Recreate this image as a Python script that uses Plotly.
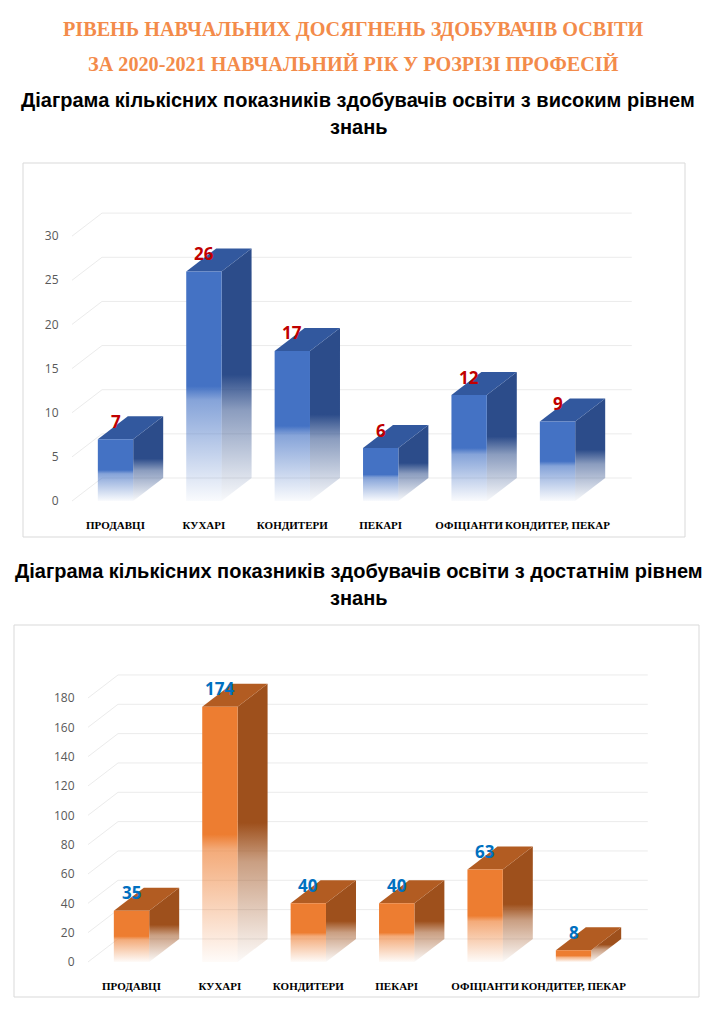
import plotly.graph_objects as go

# ---------------- data ----------------
categories = ["ПРОДАВЦІ", "КУХАРІ", "КОНДИТЕРИ", "ПЕКАРІ", "ОФІЦІАНТИ", "КОНДИТЕР, ПЕКАР"]
high_level = [7, 26, 17, 6, 12, 9]
sufficient_level = [35, 174, 40, 40, 63, 8]
ticks_high = [0, 5, 10, 15, 20, 25, 30]
ticks_sufficient = [0, 20, 40, 60, 80, 100, 120, 140, 160, 180]

title_line1 = "РІВЕНЬ НАВЧАЛЬНИХ ДОСЯГНЕНЬ ЗДОБУВАЧІВ ОСВІТИ"
title_line2 = "ЗА 2020-2021 НАВЧАЛЬНИЙ РІК У РОЗРІЗІ ПРОФЕСІЙ"
sub1_line1 = "Діаграма кількісних показників здобувачів освіти з високим рівнем"
sub1_line2 = "знань"
sub2_line1 = "Діаграма кількісних показників здобувачів освіти з достатнім рівнем"
sub2_line2 = "знань"

# ---------------- styling / geometry ----------------
PAGE_OFF = 8                      # page body margin of the html page
W, H = 718 - PAGE_OFF, 1024 - PAGE_OFF
HALF_W = 0.2          # half width of bar front face (category units)
DEPTH_X_PX = 30       # 3D depth offset in pixels
DEPTH_Y_PX = 23
WALL_LEFT = -0.492    # front-left corner of side wall
WALL_RIGHT = 5.84     # end of back wall
XR = [-0.56, 5.933]


def fx(p):
    return (p - PAGE_OFF) / W


def fy(p):
    return 1 - (p - PAGE_OFF) / H


charts = [
    dict(values=high_level, ticks=ticks_high, xa="x", ya="y",
         px_x=(66, 640), px_y=(200, 508), yr=[-0.79, 34.09],
         front="68,114,196", side="44,76,138", top="50,88,158",
         label_color="#C00000", frame=(23, 163, 685, 537)),
    dict(values=sufficient_level, ticks=ticks_sufficient, xa="x2", ya="y2",
         px_x=(82, 656), px_y=(660, 969), yr=[-4.8, 205.9],
         front="237,125,49", side="158,80,28", top="178,92,34",
         label_color="#0070C0", frame=(14, 625, 699, 997)),
]


def grad(rgb, solid_from=0.5, mid=0.42, mid_alpha=0.6):
    return [[0.0, f"rgba({rgb},0.03)"],
            [mid, f"rgba({rgb},{mid_alpha})"],
            [solid_from, f"rgba({rgb},1)"],
            [1.0, f"rgba({rgb},1)"]]


fig = go.Figure()
layout_axes = {}
annotations = []
shapes = []

for k, c in enumerate(charts):
    ppu_x = (c["px_x"][1] - c["px_x"][0]) / (XR[1] - XR[0])
    ppu_y = (c["px_y"][1] - c["px_y"][0]) / (c["yr"][1] - c["yr"][0])
    dX = DEPTH_X_PX / ppu_x
    dY = DEPTH_Y_PX / ppu_y

    # walls / gridlines
    gx, gy = [], []
    for t in c["ticks"]:
        gx += [WALL_LEFT, WALL_LEFT + dX, WALL_RIGHT, None]
        gy += [t, t + dY, t + dY, None]
    fig.add_trace(go.Scatter(x=gx, y=gy, mode="lines",
                             line=dict(color="#EBEBEB", width=1),
                             xaxis=c["xa"], yaxis=c["ya"], hoverinfo="skip"))

    for i, v in enumerate(c["values"]):
        x0, x1 = i - HALF_W, i + HALF_W
        # side face
        fig.add_trace(go.Scatter(
            x=[x1, x1 + dX, x1 + dX, x1, x1], y=[0, dY, v + dY, v, 0],
            mode="lines", line=dict(width=0), fill="toself",
            fillgradient=dict(type="vertical", colorscale=grad(c["side"], 0.5, 0.36, 0.55)),
            xaxis=c["xa"], yaxis=c["ya"], hoverinfo="skip"))
        # top face
        fig.add_trace(go.Scatter(
            x=[x0, x1, x1 + dX, x0 + dX, x0], y=[v, v, v + dY, v + dY, v],
            mode="lines", line=dict(width=0), fill="toself",
            fillcolor=f"rgb({c['top']})",
            xaxis=c["xa"], yaxis=c["ya"], hoverinfo="skip"))
        # front face
        fig.add_trace(go.Scatter(
            x=[x0, x1, x1, x0, x0], y=[0, 0, v, v, 0],
            mode="lines", line=dict(width=0), fill="toself",
            fillgradient=dict(type="vertical", colorscale=grad(c["front"], 0.5, 0.44, 0.65)),
            xaxis=c["xa"], yaxis=c["ya"], hoverinfo="skip"))
        annotations.append(dict(
            x=i, y=v, xref=c["xa"], yref=c["ya"], text=str(v), showarrow=False,
            yshift=18, xanchor="center", yanchor="middle",
            font=dict(family="Open Sans", size=17, color=c["label_color"], weight="bold")))

    suffix = "" if k == 0 else "2"
    layout_axes["xaxis" + suffix] = dict(
        domain=[fx(c["px_x"][0]), fx(c["px_x"][1])], range=XR, anchor=c["ya"],
        tickvals=list(range(len(categories))), ticktext=categories, tickangle=0,
        tickfont=dict(family="Liberation Serif", size=11, color="#000000", weight="bold"),
        ticks="outside", ticklen=7, tickcolor="rgba(0,0,0,0)", automargin=False,
        showgrid=False, zeroline=False, showline=False, fixedrange=True)
    layout_axes["yaxis" + suffix] = dict(
        domain=[fy(c["px_y"][1]), fy(c["px_y"][0])], range=c["yr"], anchor=c["xa"],
        tickvals=c["ticks"], automargin=False,
        tickfont=dict(family="Open Sans", size=12, color="#595959"),
        ticks="outside", ticklen=4, tickcolor="rgba(0,0,0,0)",
        showgrid=False, zeroline=False, showline=False, fixedrange=True)

    bx0, by0, bx1, by1 = c["frame"]
    shapes.append(dict(type="rect", xref="paper", yref="paper",
                       x0=fx(bx0), x1=fx(bx1), y0=fy(by1), y1=fy(by0),
                       line=dict(color="#D9D9D9", width=1), layer="below"))


def txt(text, xpx, ypx, family, size, color):
    return dict(text=text, x=fx(xpx), y=fy(ypx), xref="paper", yref="paper",
                showarrow=False, xanchor="center", yanchor="middle",
                font=dict(family=family, size=size, color=color, weight="bold"))


annotations += [
    txt(title_line1, 353, 30, "Liberation Serif", 20.2, "#F38B4A"),
    txt(title_line2, 353.5, 64, "Liberation Serif", 20.2, "#F38B4A"),
    txt(sub1_line1, 358, 100, "Liberation Sans", 20, "#000000"),
    txt(sub1_line2, 359, 127, "Liberation Sans", 20, "#000000"),
    txt(sub2_line1, 358.5, 571, "Liberation Sans", 20, "#000000"),
    txt(sub2_line2, 359, 598, "Liberation Sans", 20, "#000000"),
]

fig.update_layout(width=W, height=H, margin=dict(l=0, r=0, t=0, b=0, autoexpand=False),
                  paper_bgcolor="white", plot_bgcolor="white", showlegend=False,
                  annotations=annotations, shapes=shapes, **layout_axes)

fig.write_html("out.html")
